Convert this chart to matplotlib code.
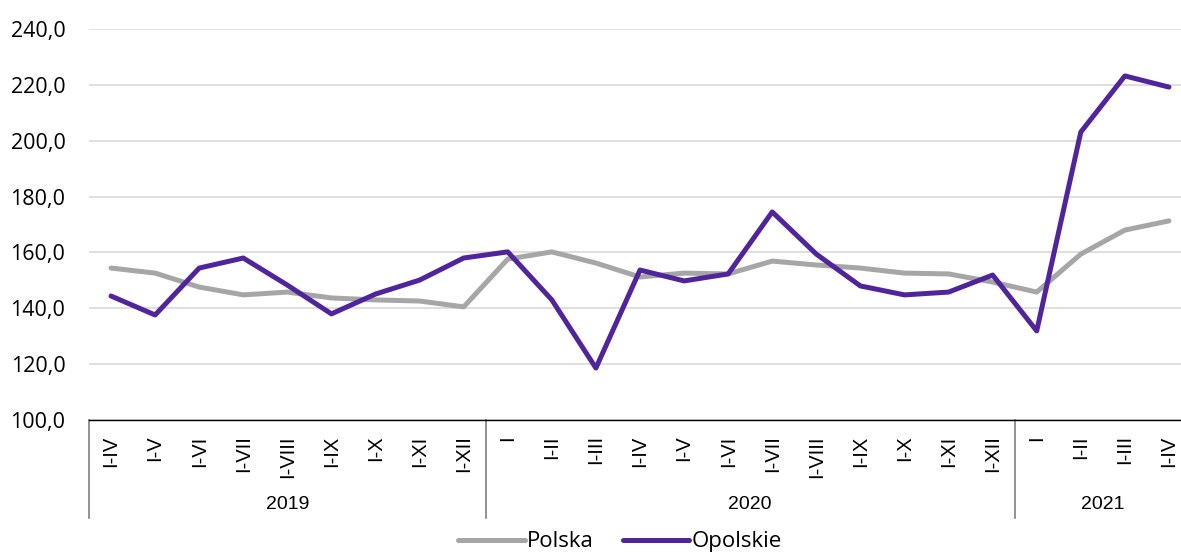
import matplotlib.pyplot as plt
import matplotlib.transforms as mtransforms
from matplotlib.ticker import FuncFormatter

# okresy narastające
labels_2019 = ['I-IV', 'I-V', 'I-VI', 'I-VII', 'I-VIII', 'I-IX', 'I-X', 'I-XI', 'I-XII']
labels_2020 = ['I', 'I-II', 'I-III', 'I-IV', 'I-V', 'I-VI', 'I-VII', 'I-VIII', 'I-IX', 'I-X', 'I-XI', 'I-XII']
labels_2021 = ['I', 'I-II', 'I-III', 'I-IV']
years = ['2019', '2020', '2021']

polska = [154.4, 152.6, 147.6, 144.8, 145.8, 143.7, 143.0, 142.6, 140.5,
          157.6, 160.2, 156.2, 151.2, 152.6, 152.3, 156.9, 155.5, 154.4, 152.6, 152.3, 149.4,
          145.8, 159.4, 168.0, 171.3]
opolskie = [144.4, 137.6, 154.4, 158.0, 148.3, 138.0, 145.1, 150.1, 158.0,
            160.2, 143.0, 118.6, 153.7, 149.8, 152.3, 174.5, 159.4, 148.0, 144.8, 145.8, 151.9,
            131.9, 203.1, 223.2, 219.2]

labels = labels_2019 + labels_2020 + labels_2021
groups = [len(labels_2019), len(labels_2020), len(labels_2021)]
x = list(range(len(labels)))

fig = plt.figure(figsize=(11.81, 5.54), dpi=100)
ax = fig.add_axes([89 / 1181, 134 / 554, 1102 / 1181, 391 / 554])

ax.plot(x, polska, color='#A6A6A6', linewidth=3.6, label='Polska', solid_capstyle='round', zorder=3)
ax.plot(x, opolskie, color='#50259B', linewidth=3.6, label='Opolskie', solid_capstyle='round', zorder=4)

ax.set_xlim(-0.5, len(labels) - 0.5)
ax.set_ylim(100, 240)
ax.set_yticks(range(100, 241, 20))
ax.yaxis.set_major_formatter(FuncFormatter(lambda v, p: f'{v:.1f}'.replace('.', ',')))
ax.grid(axis='y', color='#D9D9D9', linewidth=1.2, zorder=0)
ax.set_axisbelow(True)

for s in ['left', 'right', 'top']:
    ax.spines[s].set_visible(False)
ax.spines['bottom'].set_color('#000000')
ax.spines['bottom'].set_linewidth(1)

ax.tick_params(axis='y', length=0, pad=17, labelsize=15.5)
for lab in ax.get_yticklabels():
    lab.set_family('Open Sans')

ax.set_xticks(x)
ax.set_xticklabels(labels, rotation=90, fontsize=14.5, family='Liberation Sans', va='top')
ax.tick_params(axis='x', length=0, pad=11)

# separatory lat i podpisy
trans = mtransforms.blended_transform_factory(ax.transData, ax.transAxes)
start = -0.5
for g, yr in zip(groups, years):
    ax.plot([start, start], [0, -0.251], transform=trans, color='#808080', linewidth=1.2, clip_on=False)
    ax.text(start + g / 2, -0.217, yr, transform=trans, ha='center', va='center',
            fontsize=14, family='Liberation Sans')
    start += g
ax.plot([start, start], [0, -0.251], transform=trans, color='#808080', linewidth=1.2, clip_on=False)

leg = fig.legend(loc='center', bbox_to_anchor=(0.525, 0.022), ncol=2, frameon=False,
                 handlelength=3.0, handletextpad=0.1, columnspacing=1.3,
                 prop={'family': 'Open Sans', 'size': 16})

fig.savefig('out.png', dpi=100)
